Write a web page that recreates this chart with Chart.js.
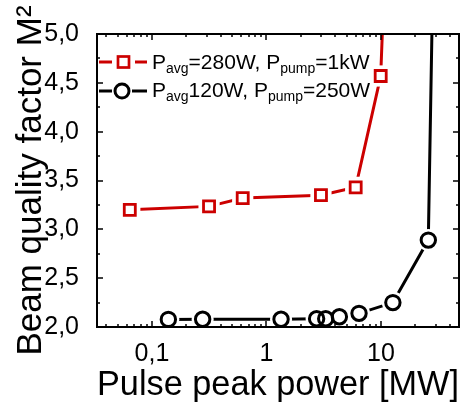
<!DOCTYPE html>
<html>
<head>
<meta charset="utf-8">
<script src="https://cdn.jsdelivr.net/npm/chart.js@4.4.0/dist/chart.umd.min.js"></script>
<style>
html,body{margin:0;padding:0;background:#fff}
</style>
</head>
<body>
<canvas id="grafico" width="461" height="406"></canvas>
<script>
// dados
let potenciaVermelho=[0.064,0.315,0.62,2.99,6.01,9.94,11.06]
let m2Vermelho=[3.20,3.235,3.32,3.35,3.43,4.57,6.0]
let potenciaPreto=[0.139,0.277,1.34,2.74,3.29,4.33,6.43,12.7,25.9,28.8]
let m2Preto=[2.078,2.08,2.08,2.085,2.085,2.105,2.14,2.25,2.89,6.0]
let ticksX=[0.1,1,10]
let rotulosX=['0,1','1','10']
let ticksY=[2.0,2.5,3.0,3.5,4.0,4.5,5.0]
let legendaVermelho=[['P',0],['avg',1],['=280W, ',0],['P',0],['pump',1],['=1kW',0]]
let legendaPreto=[['P',0],['avg',1],['120W, ',0],['P',0],['pump',1],['=250W',0]]

const FONTE='"Liberation Sans", Arial, sans-serif'
const VERMELHO='#cc0000'

function pontos(xs,ys){
return xs.map((v,i)=>({x:v,y:ys[i]}))
}

function linha(ctx,x1,y1,x2,y2){
ctx.beginPath()
ctx.moveTo(x1,y1)
ctx.lineTo(x2,y2)
ctx.stroke()
}

const molduraPlugin={
id:'moldura',
afterDatasetsDraw(chart){
let{ctx,chartArea:a,scales:{x,y}}=chart
ctx.save()
ctx.strokeStyle='#000'
ctx.lineWidth=2
ctx.strokeRect(a.left,a.top,a.right-a.left,a.bottom-a.top)
ctx.lineWidth=1.5
for(let d=-2;d<=2;d++){
for(let m=1;m<=9;m++){
let v=m*Math.pow(10,d)
if(v<x.min||v>x.max)continue
let px=Math.round(x.getPixelForValue(v))
let len=m===1?6:3
linha(ctx,px,a.bottom,px,a.bottom-len)
linha(ctx,px,a.top,px,a.top+len)
}
}
for(let i=0;i<=12;i++){
let v=2+i*0.25
let py=Math.round(y.getPixelForValue(v))
let len=i%2===0?6:3
linha(ctx,a.left,py,a.left+len,py)
linha(ctx,a.right,py,a.right-len,py)
}
ctx.restore()
}
}

function desenharTexto(ctx,partes,x,base){
partes.forEach(p=>{
ctx.font=(p[1]?'14px ':'21px ')+FONTE
ctx.fillText(p[0],x,base+(p[1]?4:0))
x+=ctx.measureText(p[0]).width
})
}

const legendaPlugin={
id:'legendaCustom',
afterDraw(chart){
let ctx=chart.ctx
ctx.save()
ctx.lineWidth=3
ctx.fillStyle='#000'
ctx.textBaseline='alphabetic'

// linha vermelha
ctx.strokeStyle=VERMELHO
linha(ctx,99,62,112,62)
linha(ctx,135,62,147,62)
ctx.lineWidth=2.7
ctx.fillStyle='#fff'
ctx.fillRect(118,56.5,11,11)
ctx.strokeRect(118,56.5,11,11)

// linha preta
ctx.strokeStyle='#000'
ctx.lineWidth=3
linha(ctx,99,91,112,91)
linha(ctx,132,91,147,91)
ctx.beginPath()
ctx.arc(122,91,7,0,Math.PI*2)
ctx.fillStyle='#fff'
ctx.fill()
ctx.stroke()

ctx.fillStyle='#000'
desenharTexto(ctx,legendaVermelho,152,69)
desenharTexto(ctx,legendaPreto,152,97)
ctx.restore()
}
}

let ctx=document.getElementById('grafico')

let grafico=new Chart(ctx,{
type:'line',
data:{
datasets:[
{
data:pontos(potenciaVermelho,m2Vermelho),
borderColor:VERMELHO,
borderWidth:3,
pointStyle:'rect',
pointRadius:15,
pointBackgroundColor:'#fff',
pointBorderWidth:0,
pointBorderColor:'#fff',
clip:0,
order:3
},
{
data:pontos(potenciaPreto,m2Preto),
borderColor:'#000',
borderWidth:3,
pointStyle:'circle',
pointRadius:11,
pointBackgroundColor:'#fff',
pointBorderWidth:0,
pointBorderColor:'#fff',
clip:0,
order:3
},
{
data:pontos(potenciaVermelho,m2Vermelho),
showLine:false,
pointStyle:'rect',
pointRadius:7.8,
pointBackgroundColor:'rgba(0,0,0,0)',
pointBorderColor:VERMELHO,
pointBorderWidth:2.8,
order:1
},
{
data:pontos(potenciaPreto,m2Preto),
showLine:false,
pointStyle:'circle',
pointRadius:7.2,
pointBackgroundColor:'rgba(0,0,0,0)',
pointBorderColor:'#000',
pointBorderWidth:3,
order:1
}
]
},
options:{
responsive:false,
animation:false,
layout:{
autoPadding:false,
padding:{top:34,right:2,left:0,bottom:0}
},
plugins:{
legend:{display:false},
tooltip:{enabled:false}
},
scales:{
x:{
type:'logarithmic',
min:0.0331,
max:48,
afterBuildTicks:s=>{s.ticks=ticksX.map(v=>({value:v}))},
afterFit:s=>{s.height=79},
ticks:{
callback:(v,i)=>rotulosX[i],
color:'#000',
font:{size:25,family:FONTE},
padding:4,
maxRotation:0,
autoSkip:false
},
grid:{display:false},
border:{display:false},
title:{
display:true,
text:'Pulse peak power [MW]',
color:'#000',
font:{size:35,family:FONTE},
padding:{top:0,bottom:0}
}
},
y:{
min:2,
max:5,
afterBuildTicks:s=>{s.ticks=ticksY.map(v=>({value:v}))},
afterFit:s=>{s.width=97},
ticks:{
callback:v=>v.toFixed(1).replace('.',','),
color:'#000',
font:{size:25,family:FONTE},
padding:10
},
grid:{display:false},
border:{display:false},
title:{
display:true,
text:'Beam quality factor M²',
color:'#000',
font:{size:35,family:FONTE},
padding:{top:10,bottom:0}
}
}
}
},
plugins:[molduraPlugin,legendaPlugin]
})
</script>
</body>
</html>
